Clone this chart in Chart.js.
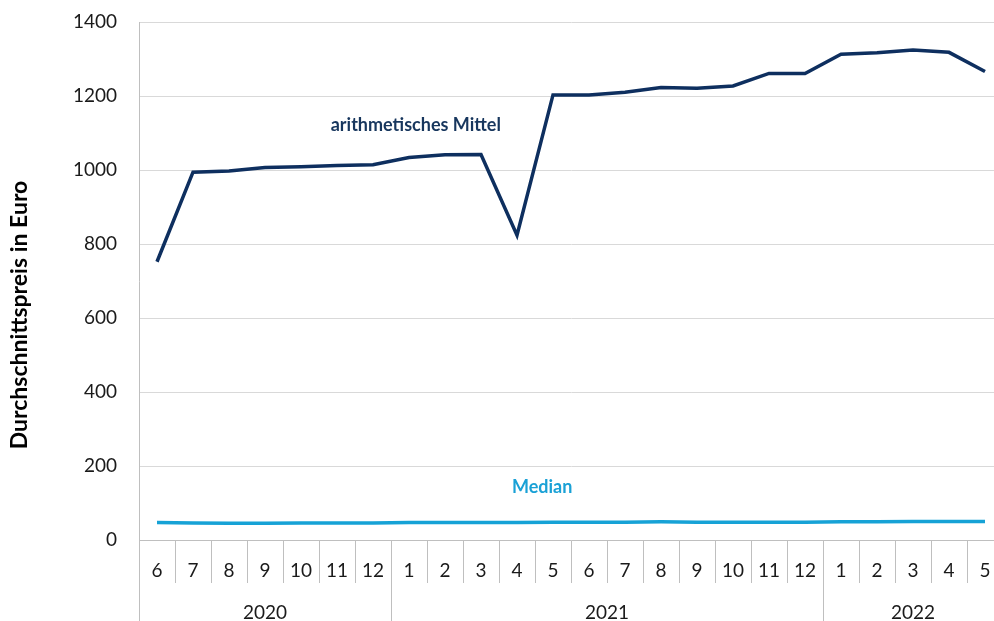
<!DOCTYPE html>
<html><head><meta charset="utf-8">
<script src="https://cdn.jsdelivr.net/npm/chart.js@4.4.1/dist/chart.umd.min.js"></script>
<style>html,body{margin:0;padding:0;overflow:hidden;background:#fff;} canvas{display:block;}</style>
</head><body>
<canvas id="c" width="1004" height="621" style="width:1004px;height:621px"></canvas>
<script>
const months = ['6','7','8','9','10','11','12','1','2','3','4','5','6','7','8','9','10','11','12','1','2','3','4','5'];
const years = ['2020','2021','2022'];
const yearSpans = [7, 12, 5];
const meanValues = [752, 994, 997, 1007, 1009, 1012, 1014, 1034, 1041, 1042, 824, 1203, 1203, 1210, 1223, 1221, 1227, 1261, 1261, 1313, 1317, 1324, 1318, 1266];
const medianValues = [47, 46, 45, 45, 46, 46, 46, 47, 47, 47, 47, 48, 48, 48, 49, 48, 48, 48, 48, 49, 49, 50, 50, 50];
const yTicks = [0, 200, 400, 600, 800, 1000, 1200, 1400];
const meanLabel = 'arithmetisches Mittel';
const medianLabel = 'Median';
const yTitle = 'Durchschnittspreis in Euro';

const FONT = 'Lato, "Open Sans", sans-serif';
const MEAN_COLOR = '#0e2f5f';
const MEDIAN_COLOR = '#16a2d6';
const SEP_COLOR = '#bfbfbf';

// year separators and centers derived from spans
const yearBounds = [-0.5];
yearSpans.forEach(s => yearBounds.push(yearBounds[yearBounds.length - 1] + s));
const yearCenters = yearSpans.map((s, i) => yearBounds[i] + s / 2);

const annot = {
  id: 'annot',
  afterDatasetsDraw(chart) {
    const { ctx, scales: { x, y } } = chart;
    ctx.save();
    ctx.font = 'bold 18px ' + FONT;
    ctx.textAlign = 'center';
    ctx.textBaseline = 'middle';
    ctx.fillStyle = '#17365d';
    ctx.fillText(meanLabel, x.getPixelForValue(7.19), y.getPixelForValue(1122));
    ctx.fillStyle = '#1aa1d6';
    ctx.fillText(medianLabel, x.getPixelForValue(10.7), y.getPixelForValue(143));
    ctx.translate(20, 315);
    ctx.rotate(-Math.PI / 2);
    ctx.fillStyle = '#000';
    ctx.font = 'bold 23px ' + FONT;
    ctx.fillText(yTitle, 0, 0);
    ctx.restore();
  }
};

new Chart(document.getElementById('c'), {
  type: 'line',
  data: {
    labels: months,
    datasets: [
      { label: meanLabel, data: meanValues, borderColor: MEAN_COLOR, borderWidth: 3.5, pointRadius: 0, tension: 0, xAxisID: 'x' },
      { label: medianLabel, data: medianValues, borderColor: MEDIAN_COLOR, borderWidth: 3.5, pointRadius: 0, tension: 0, xAxisID: 'x' }
    ]
  },
  options: {
    responsive: false,
    animation: false,
    layout: { padding: { top: 22, left: 0, right: 1, bottom: 0 } },
    plugins: { legend: { display: false }, tooltip: { enabled: false } },
    scales: {
      y: {
        min: 0, max: 1400,
        afterBuildTicks: s => { s.ticks = yTicks.map(v => ({ value: v })); },
        afterFit: s => { s.width = 139; s.paddingTop = 0; s.paddingBottom = 0; },
        grid: { color: '#d9d9d9', drawTicks: false, lineWidth: 1 },
        border: { display: true, color: SEP_COLOR },
        ticks: { padding: 22, color: '#1a1a1a', font: { family: FONT, size: 19 }, callback: v => String(v) }
      },
      x: {
        type: 'category',
        position: 'bottom',
        weight: 0,
        offset: true,
        afterFit: s => { s.height = 43; s.paddingLeft = 0; s.paddingRight = 0; },
        grid: { offset: true, drawOnChartArea: false, drawTicks: true, tickLength: 43, color: SEP_COLOR },
        border: { display: true, color: SEP_COLOR },
        ticks: { padding: -24, autoSkip: false, maxRotation: 0, color: '#1a1a1a', font: { family: FONT, size: 19 } }
      },
      yr: {
        type: 'linear',
        position: 'bottom',
        weight: 1,
        min: -0.5, max: 23.5,
        afterBuildTicks: s => {
          const vals = yearBounds.concat(yearCenters).sort((a, b) => a - b);
          s.ticks = vals.map(v => ({ value: v }));
        },
        afterFit: s => { s.height = 38; s.paddingLeft = 0; s.paddingRight = 0; },
        grid: {
          drawOnChartArea: false, drawTicks: true, tickLength: 38,
          color: c => (c.tick && yearBounds.includes(c.tick.value)) ? SEP_COLOR : 'rgba(0,0,0,0)'
        },
        border: { display: false },
        ticks: {
          padding: -20, autoSkip: false, maxRotation: 0, color: '#1a1a1a', font: { family: FONT, size: 19 },
          callback: v => { const i = yearCenters.indexOf(v); return i >= 0 ? years[i] : ''; }
        }
      }
    }
  },
  plugins: [annot]
});
</script>
</body></html>
